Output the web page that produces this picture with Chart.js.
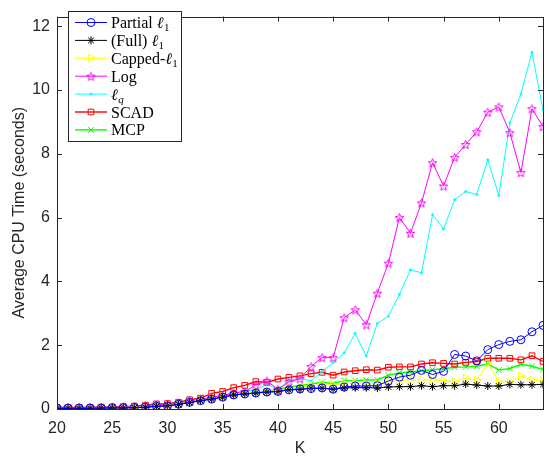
<!DOCTYPE html>
<html>
<head>
<meta charset="utf-8">
<script src="https://cdn.jsdelivr.net/npm/chart.js@4.4.0/dist/chart.umd.min.js"></script>
<style>
  html, body { margin: 0; padding: 0; background: #fff; }
</style>
</head>
<body>
<canvas id="cpuChart" width="549" height="459"></canvas>
<script>
// K values on the x axis
const kValues = [20, 21, 22, 23, 24, 25, 26, 27, 28, 29, 30, 31, 32, 33, 34, 35, 36, 37, 38, 39, 40,
  41, 42, 43, 44, 45, 46, 47, 48, 49, 50, 51, 52, 53, 54, 55, 56, 57, 58, 59, 60, 61, 62, 63, 64];

// average CPU time (seconds)
const partialL1 = [0.03, 0.03, 0.03, 0.03, 0.03, 0.04, 0.04, 0.05, 0.06, 0.09, 0.10, 0.15, 0.21, 0.26, 0.31, 0.37,
  0.44, 0.47, 0.50, 0.53, 0.55, 0.60, 0.63, 0.64, 0.66, 0.62, 0.69, 0.72, 0.72, 0.73, 0.88, 1.00, 1.06, 1.21,
  1.08, 1.18, 1.71, 1.66, 1.51, 1.86, 2.02, 2.12, 2.17, 2.42, 2.62];
const fullL1 = [0.02, 0.02, 0.02, 0.02, 0.03, 0.03, 0.03, 0.04, 0.05, 0.08, 0.10, 0.14, 0.20, 0.26, 0.31, 0.37,
  0.44, 0.47, 0.50, 0.53, 0.55, 0.60, 0.61, 0.65, 0.65, 0.62, 0.66, 0.67, 0.67, 0.66, 0.69, 0.70, 0.70, 0.73,
  0.70, 0.73, 0.73, 0.78, 0.75, 0.72, 0.72, 0.77, 0.76, 0.76, 0.77];
const cappedL1 = [0.03, 0.03, 0.03, 0.03, 0.04, 0.04, 0.05, 0.05, 0.07, 0.10, 0.12, 0.16, 0.22, 0.27, 0.33, 0.39,
  0.45, 0.49, 0.52, 0.55, 0.58, 0.65, 0.69, 0.72, 0.77, 0.74, 0.80, 0.80, 0.79, 0.79, 0.86, 0.88, 0.92, 0.92,
  0.91, 0.89, 0.86, 0.97, 0.90, 1.43, 0.86, 0.85, 1.03, 0.91, 0.89];
const logPen = [0.05, 0.05, 0.05, 0.05, 0.05, 0.06, 0.07, 0.08, 0.10, 0.13, 0.14, 0.19, 0.26, 0.30, 0.37, 0.42,
  0.50, 0.55, 0.75, 0.88, 0.62, 0.85, 0.95, 1.33, 1.61, 1.61, 2.86, 3.11, 2.64, 3.63, 4.57, 6.00, 5.51, 6.46,
  7.72, 6.99, 7.89, 8.29, 8.69, 9.30, 9.47, 8.66, 7.41, 9.41, 8.85];
const lqPen = [0.04, 0.04, 0.04, 0.04, 0.04, 0.05, 0.06, 0.07, 0.09, 0.12, 0.13, 0.18, 0.25, 0.30, 0.37, 0.43,
  0.50, 0.56, 0.60, 0.78, 0.62, 0.90, 0.96, 0.88, 1.18, 1.45, 1.76, 2.37, 1.66, 2.68, 2.91, 3.59, 4.36, 4.27,
  6.09, 5.64, 6.56, 6.82, 6.72, 7.81, 6.69, 8.97, 9.87, 11.18, 9.37];
const scad = [0.05, 0.05, 0.05, 0.05, 0.06, 0.06, 0.08, 0.09, 0.12, 0.16, 0.17, 0.21, 0.29, 0.34, 0.49, 0.55,
  0.67, 0.74, 0.86, 0.83, 0.94, 0.99, 1.04, 1.11, 1.15, 1.06, 1.16, 1.20, 1.23, 1.22, 1.31, 1.32, 1.32, 1.41,
  1.45, 1.43, 1.41, 1.46, 1.49, 1.59, 1.59, 1.59, 1.54, 1.67, 1.49];
const mcp = [0.04, 0.04, 0.04, 0.04, 0.05, 0.05, 0.06, 0.07, 0.08, 0.11, 0.12, 0.16, 0.23, 0.28, 0.34, 0.41,
  0.46, 0.49, 0.52, 0.56, 0.62, 0.68, 0.74, 0.78, 0.84, 0.80, 0.89, 0.89, 0.91, 0.91, 1.06, 1.13, 1.16, 1.20,
  1.23, 1.26, 1.31, 1.32, 1.34, 1.42, 1.22, 1.27, 1.40, 1.34, 1.24];

// legend names: plain part, script ell (or not), subscript
const seriesNames = ['Partial ', '(Full) ', 'Capped-', 'Log', '', 'SCAD', 'MCP'];
const seriesEll = [true, true, true, false, true, false, false];
const seriesSubs = ['1', '1', '1', '', 'q', '', ''];
const xTicks = [20, 25, 30, 35, 40, 45, 50, 55, 60];
const yTicks = [0, 2, 4, 6, 8, 10, 12];

const axisColor = '#262626';
const serif = '"Liberation Serif", "DejaVu Serif", serif';
const sans = '"Liberation Sans", Arial, sans-serif';

function toPoints(arr) {
  return kValues.map((k, i) => ({ x: k, y: arr[i] }));
}

// matlab style pentagram marker
function makePentagram(color, r) {
  const c = document.createElement('canvas');
  const s = Math.ceil(r * 2 + 4);
  c.width = s; c.height = s;
  const g = c.getContext('2d');
  g.strokeStyle = color;
  g.lineWidth = 1;
  g.beginPath();
  for (let i = 0; i < 10; i++) {
    const a = -Math.PI / 2 + i * Math.PI / 5;
    const rr = i % 2 === 0 ? r : r * 0.45;
    g.lineTo(s / 2 + rr * Math.cos(a), s / 2 + 0.5 + rr * Math.sin(a));
  }
  g.closePath();
  g.stroke();
  return c;
}
const starMarker = makePentagram('#ff00ff', 4.5);

const series = [
  { data: partialL1, color: '#0000ff', style: 'circle', radius: 4, width: 1, fill: false },
  { data: fullL1, color: '#000000', style: 'star', radius: 4, width: 1, fill: false },
  { data: cappedL1, color: '#ffff00', style: 'triangle', radius: 4.5, width: 1, fill: false, rot: 90 },
  { data: logPen, color: '#ff00ff', style: starMarker, radius: 5, width: 1, fill: false },
  { data: lqPen, color: '#00ffff', style: 'circle', radius: 1, width: 1, fill: true },
  { data: scad, color: '#ff0000', style: 'rect', radius: 4, width: 1.4, fill: false },
  { data: mcp, color: '#00ff00', style: 'crossRot', radius: 4, width: 1.4, fill: false }
];

const datasets = series.map((s, i) => ({
  label: seriesNames[i] + (seriesEll[i] ? '\u2113' : '') + seriesSubs[i],
  data: toPoints(s.data),
  borderColor: s.color,
  backgroundColor: s.fill ? s.color : 'rgba(0,0,0,0)',
  borderWidth: s.width,
  pointStyle: s.style,
  pointRadius: s.radius,
  pointRotation: s.rot || 0,
  pointBorderColor: s.color,
  pointBorderWidth: 1,
  tension: 0
}));

// box around the plot with inward ticks on all four sides
const boxTicks = {
  id: 'boxTicks',
  afterDatasetsDraw(chart) {
    const { ctx, chartArea: a, scales } = chart;
    ctx.save();
    ctx.strokeStyle = axisColor;
    ctx.lineWidth = 1;
    ctx.strokeRect(Math.round(a.left) + 0.5, Math.round(a.top) + 0.5,
      Math.round(a.right - a.left), Math.round(a.bottom - a.top));
    ctx.beginPath();
    xTicks.forEach(v => {
      const x = Math.round(scales.x.getPixelForValue(v)) + 0.5;
      ctx.moveTo(x, a.bottom); ctx.lineTo(x, a.bottom - 5);
      ctx.moveTo(x, a.top); ctx.lineTo(x, a.top + 5);
    });
    yTicks.forEach(v => {
      const y = Math.round(scales.y.getPixelForValue(v)) + 0.5;
      ctx.moveTo(a.left, y); ctx.lineTo(a.left + 5, y);
      ctx.moveTo(a.right, y); ctx.lineTo(a.right - 5, y);
    });
    ctx.stroke();
    ctx.restore();
  }
};

// legend box, line + marker per entry like matlab
const matLegend = {
  id: 'matLegend',
  afterDraw(chart) {
    const ctx = chart.ctx;
    const left = 68, top = 11, w = 113, h = 130;
    ctx.save();
    ctx.fillStyle = '#fff';
    ctx.fillRect(left, top, w, h);
    ctx.strokeStyle = axisColor;
    ctx.lineWidth = 1;
    ctx.strokeRect(left + 0.5, top + 0.5, w, h);
    chart.data.datasets.forEach((ds, i) => {
      const y = top + 11.5 + i * 17.9;
      ctx.strokeStyle = ds.borderColor;
      ctx.lineWidth = ds.borderWidth;
      ctx.beginPath();
      ctx.moveTo(75, y); ctx.lineTo(107, y);
      ctx.stroke();
      ctx.lineWidth = 1;
      ctx.fillStyle = ds.backgroundColor;
      Chart.helpers.drawPoint(ctx, {
        pointStyle: ds.pointStyle,
        radius: ds.pointRadius,
        rotation: ds.pointRotation,
        borderWidth: 1
      }, 91, y);

      // text: plain part, italic ell, lowered subscript
      ctx.fillStyle = '#000';
      ctx.textBaseline = 'alphabetic';
      ctx.textAlign = 'left';
      const base = y + 5.5;
      let x = 111;
      ctx.font = '16px ' + serif;
      ctx.fillText(seriesNames[i], x, base);
      x += ctx.measureText(seriesNames[i]).width;
      if (seriesEll[i]) {
        ctx.font = 'italic 16px ' + serif;
        ctx.fillText('\u2113', x, base);
        x += ctx.measureText('\u2113').width;
      }
      if (seriesSubs[i]) {
        ctx.font = (seriesSubs[i] === 'q' ? 'italic ' : '') + '11px ' + serif;
        ctx.fillText(seriesSubs[i], x + 0.5, base + 3);
      }
    });
    ctx.restore();
  }
};

new Chart(document.getElementById('cpuChart'), {
  type: 'line',
  data: { datasets },
  plugins: [boxTicks, matLegend],
  options: {
    responsive: false,
    animation: false,
    devicePixelRatio: 1,
    layout: { padding: { top: 1, right: 6, left: 0, bottom: 0 } },
    plugins: { legend: { display: false }, tooltip: { enabled: false } },
    scales: {
      x: {
        type: 'linear',
        min: 20,
        max: 64,
        afterBuildTicks: s => { s.ticks = xTicks.map(v => ({ value: v })); },
        afterFit: s => { s.height = 50; },
        grid: { display: false, drawTicks: false },
        border: { display: false },
        ticks: { color: axisColor, font: { family: sans, size: 16 }, padding: 10, maxRotation: 0 },
        title: { display: true, text: 'K', color: axisColor, font: { family: sans, size: 16 }, padding: { top: 0, bottom: 1 } }
      },
      y: {
        min: 0,
        max: 12.3,
        afterBuildTicks: s => { s.ticks = yTicks.map(v => ({ value: v })); },
        afterFit: s => { s.width = 57; },
        grid: { display: false, drawTicks: false },
        border: { display: false },
        ticks: { color: axisColor, font: { family: sans, size: 16 }, padding: 7 },
        title: { display: true, text: 'Average CPU Time (seconds)', color: axisColor, font: { family: sans, size: 16 }, padding: { top: 10, bottom: 0 } }
      }
    }
  }
});
</script>
</body>
</html>
